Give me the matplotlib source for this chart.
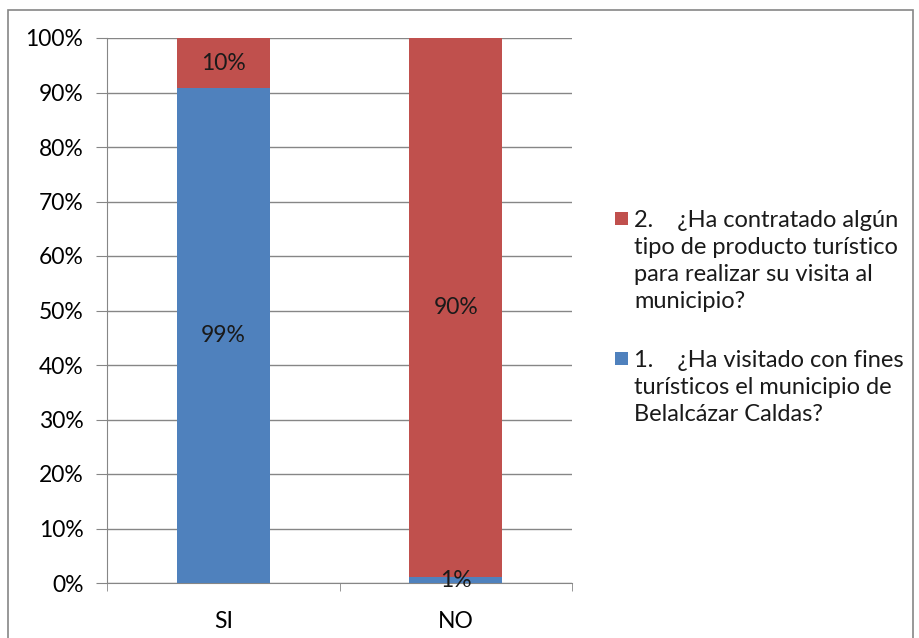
import matplotlib
matplotlib.use("Agg")
import matplotlib.pyplot as plt
from matplotlib.patches import Rectangle
import numpy as np

categories = ["SI", "NO"]
serie1_label = "1.    ¿Ha visitado con fines\nturísticos el municipio de\nBelalcázar Caldas?"
serie2_label = "2.    ¿Ha contratado algún\ntipo de producto turístico\npara realizar su visita al\nmunicipio?"
serie1_values = [99, 1]
serie2_values = [10, 90]
yticks = [0, 10, 20, 30, 40, 50, 60, 70, 80, 90, 100]

blue = "#4F81BD"
red = "#C0504D"
plt.rcParams['font.family'] = ['Lato', 'DejaVu Sans']
FS = 16.5
LFS = 17

fig = plt.figure(figsize=(9.19, 6.38), dpi=100)
fig.patches.append(Rectangle((8/919, -0.1), (913-8)/919, 1.1 - 10/638, transform=fig.transFigure,
                             fill=False, edgecolor="#868686", linewidth=1.2))
ax = fig.add_axes([107/919, 55/638, (572-107)/919, (583-38)/638])

s1 = np.array(serie1_values, float)
s2 = np.array(serie2_values, float)
tot = s1 + s2
p1 = s1 / tot * 100
p2 = s2 / tot * 100
x = np.arange(len(categories))
w = 0.4
ax.bar(x, p1, w, color=blue, zorder=3)
ax.bar(x, p2, w, bottom=p1, color=red, zorder=3)
for i in range(len(categories)):
    ax.text(x[i], p1[i] / 2, f"{serie1_values[i]}%", ha="center", va="center", fontsize=FS, color="#1a1a1a", zorder=4)
    ax.text(x[i], p1[i] + p2[i] / 2, f"{serie2_values[i]}%", ha="center", va="center", fontsize=FS, color="#1a1a1a", zorder=4)

ax.set_xlim(-0.5, 1.5)
ax.set_ylim(0, 100)
ax.set_yticks(yticks)
ax.set_yticklabels([f"{v}%" for v in yticks], fontsize=FS)
ax.yaxis.grid(True, color="#868686", linewidth=1.0, zorder=0)
ax.set_xticks(x)
ax.set_xticklabels(categories, fontsize=FS)
ax.set_xticks([-0.5, 0.5, 1.5], minor=True)
ax.tick_params(axis="x", which="major", length=0, pad=20)
ax.tick_params(axis="x", which="minor", length=6, color="#868686")
ax.tick_params(axis="y", length=8, color="#868686", pad=9)
for s in ["top", "right"]:
    ax.spines[s].set_visible(False)
ax.spines["left"].set_color("#868686")
ax.spines["bottom"].set_color("#868686")

# legend drawn manually (Excel style: marker aligned to first text line)
entries = [(red, serie2_label, 218), (blue, serie1_label, 358)]
for color, label, yc in entries:
    fig.patches.append(Rectangle((615/919, 1 - (yc + 7)/638), 13/919, 13/638,
                                 transform=fig.transFigure, facecolor=color, edgecolor="none"))
    fig.text(634/919, 1 - (yc - 8)/638, label, fontsize=LFS, va="top", ha="left",
             linespacing=1.36, color="#1a1a1a")
fig.savefig("out.png", dpi=100)
